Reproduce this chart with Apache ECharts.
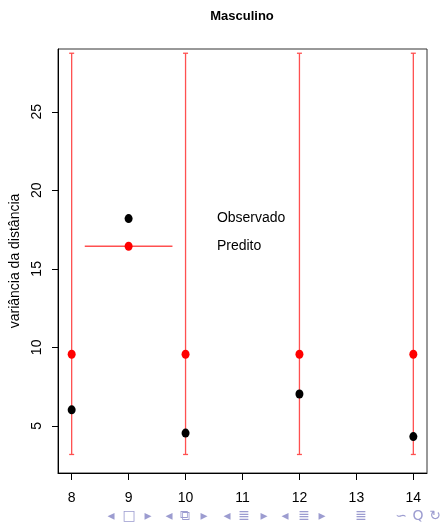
<!DOCTYPE html>
<html>
<head>
<meta charset="utf-8">
<script src="https://cdn.jsdelivr.net/npm/echarts@6/dist/echarts.min.js"></script>
<style>
  html, body { margin: 0; padding: 0; background: #fff; }
  #chart { width: 442px; height: 522px; }
</style>
</head>
<body>
<div id="chart"></div>
<script>
// idades (x) e valores
var idades = [8, 10, 12, 14];
var observado = [6.02, 4.54, 7.03, 4.32];
var predito = [9.56, 9.56, 9.56, 9.56];
var limInf = [3.18, 3.18, 3.18, 3.18];
var limSup = [28.73, 28.73, 28.73, 28.73];
var xTicks = [8, 9, 10, 11, 12, 13, 14];
var yTicks = [5, 10, 15, 20, 25];

// legenda desenhada dentro do gráfico
var legObs = [9, 18.2];
var legPred = [9, 16.44];
var legLinha = [[8.23, 16.44], [9.77, 16.44]];
var legTexto = [["Observado", 10.55, 18.2], ["Predito", 10.55, 16.44]];

// simbolos de navegacao do beamer no rodape
var nav = [
  ["◂", 111], ["□", 129], ["▸", 148],
  ["◂", 169], ["⧉", 185], ["▸", 204],
  ["◂", 227], ["≣", 244], ["▸", 264],
  ["◂", 285], ["≣", 304], ["▸", 322],
  ["≣", 361],
  ["∽", 401], ["Q", 418], ["↻", 435]
];

var font = "Liberation Sans";
var vermelho = "#ff0000";
var barraCor = "#ff5050";

var graficos = [{
  type: "text",
  x: 242, y: 16,
  style: {
    text: "Masculino", align: "center", verticalAlign: "middle",
    font: "bold 13px " + font, fill: "#000"
  }
}];
nav.forEach(function (n) {
  graficos.push({
    type: "text",
    x: n[1], y: 516,
    style: {
      text: n[0], align: "center", verticalAlign: "middle",
      font: "14px 'DejaVu Sans'", fill: "#9c9cd0"
    }
  });
});

var series = [];

// barras de intervalo: uma linha vertical por idade, com traço nas pontas
idades.forEach(function (x, i) {
  series.push({
    type: "line",
    data: [[x, limInf[i]], [x, limSup[i]]],
    symbol: "rect", symbolSize: [5, 1.3], showSymbol: true, z: 1,
    itemStyle: { color: barraCor },
    lineStyle: { color: barraCor, width: 1.3 }
  });
});

series.push(
  {
    type: "scatter",
    data: idades.map(function (x, i) { return [x, predito[i]]; }),
    symbol: "circle", symbolSize: [8, 9], z: 3,
    itemStyle: { color: vermelho, opacity: 1 }
  },
  {
    type: "scatter",
    data: idades.map(function (x, i) { return [x, observado[i]]; }),
    symbol: "circle", symbolSize: [8, 9], z: 3,
    itemStyle: { color: "#000", opacity: 1 }
  },
  {
    type: "line",
    data: legLinha,
    symbol: "none", z: 2,
    lineStyle: { color: barraCor, width: 1.4, opacity: 1 }
  },
  {
    type: "scatter",
    data: [legObs],
    symbol: "circle", symbolSize: [8, 9], z: 3,
    itemStyle: { color: "#000", opacity: 1 }
  },
  {
    type: "scatter",
    data: [legPred],
    symbol: "circle", symbolSize: [8, 9], z: 3,
    itemStyle: { color: vermelho, opacity: 1 }
  },
  {
    type: "scatter",
    data: legTexto.map(function (d) { return { name: d[0], value: [d[1], d[2]] }; }),
    symbolSize: 0,
    itemStyle: { opacity: 1 },
    label: {
      show: true, position: "right", distance: 0,
      formatter: "{b}",
      fontFamily: font, fontSize: 14, color: "#000"
    }
  }
);

var chart = echarts.init(document.getElementById("chart"));
chart.setOption({
  animation: false,
  grid: {
    left: 58, right: 15, top: 49, bottom: 49,
    outerBoundsMode: "none",
    containLabel: false,
    show: true, borderColor: "#333", borderWidth: 1
  },
  xAxis: {
    type: "value", min: 7.76, max: 14.24,
    splitLine: { show: false },
    axisLine: { show: true, lineStyle: { color: "#000" } },
    axisTick: { show: true, length: 7, customValues: xTicks, lineStyle: { color: "#000" } },
    axisLabel: { customValues: xTicks, margin: 18, fontFamily: font, fontSize: 14, color: "#000" }
  },
  yAxis: {
    type: "value", min: 2.0, max: 29.0,
    name: "variância da distância",
    nameLocation: "middle",
    nameGap: 30,
    nameTextStyle: { fontFamily: font, fontSize: 14, color: "#000" },
    splitLine: { show: false },
    axisLine: { show: true, lineStyle: { color: "#000" } },
    axisTick: { show: true, length: 6, customValues: yTicks, lineStyle: { color: "#000" } },
    axisLabel: { customValues: yTicks, rotate: 90, margin: 14, fontFamily: font, fontSize: 14, color: "#000" }
  },
  graphic: graficos,
  series: series
});
</script>
</body>
</html>
